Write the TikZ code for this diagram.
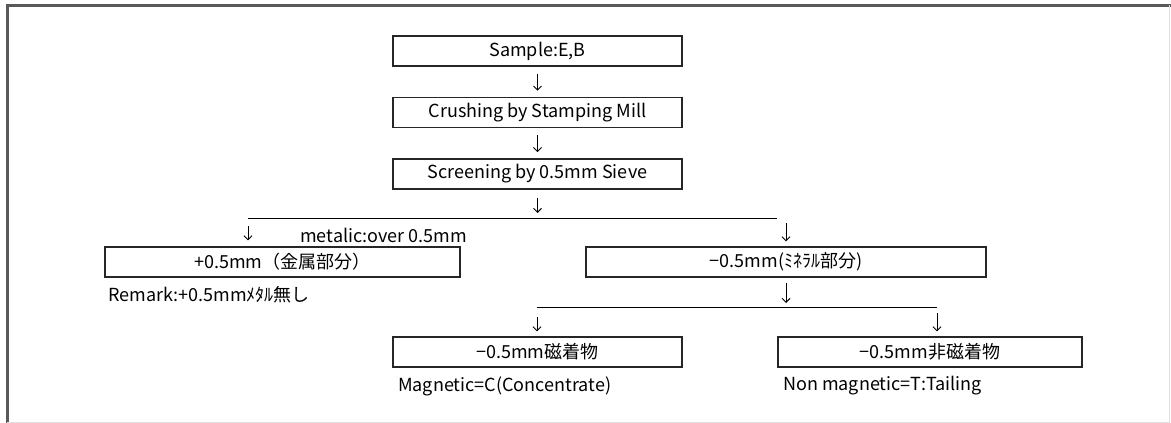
\documentclass[tikz,border=0pt]{standalone}
\usepackage{fontspec}
\setmainfont{Noto Sans CJK JP}
\usetikzlibrary{arrows.meta, positioning}

\begin{document}
\begin{tikzpicture}[
    x=1pt, y=-1pt,
    box/.style={draw=black!85, line width=1.4pt, minimum height=30pt, inner sep=0pt,
                font=\fontsize{18}{20}\selectfont},
    note/.style={anchor=west, inner sep=0pt, font=\fontsize{18}{20}\selectfont},
    arrow/.style={-{Straight Barb[length=4pt,width=8pt]}, line width=0.9pt},
    node distance=30pt
]
    \useasboundingbox (0,0) rectangle (1171,423);
    % frame
    \draw[black!65, line width=3pt] (7,423) -- (7,5) -- (1171,5);
    \draw[black!12, line width=1pt] (1169,5) -- (1169,422) -- (7,422);

    \node[box, minimum width=289pt] (sample) at (537.5,51) {Sample:E,B};
    \node[box, minimum width=289pt, below=of sample] (crush) {Crushing by Stamping Mill};
    \node[box, minimum width=289pt, below=of crush] (screen) {Screening by 0.5mm Sieve};

    \node[box, minimum width=355pt] (metal) at (282.5,262) {+0.5mm（金属部分）};
    \node[box, minimum width=400pt] (mineral) at (786,262) {−0.5mm(ﾐﾈﾗﾙ部分)};
    \node[box, minimum width=289pt] (mag) at (537.5,352) {−0.5mm磁着物};
    \node[box, minimum width=304pt] (nonmag) at (930,352) {−0.5mm非磁着物};

    \node[note] (over) at (300,235) {metalic:over 0.5mm};
    \node[note] (remark) at (108,295) {Remark:+0.5mmﾒﾀﾙ無し};
    \node[note] (magnote) at (398,386) {Magnetic=C(Concentrate)};
    \node[note] (nonnote) at (783,386) {Non magnetic=T:Tailing};

    \coordinate (b1l) at (248,218);
    \coordinate (b1r) at (777,218);
    \coordinate (b2l) at (537,307);
    \coordinate (b2r) at (937,307);

    \draw[arrow, shorten <=7pt, shorten >=6pt] (sample) -- (crush);
    \draw[arrow, shorten <=7pt, shorten >=6pt] (crush) -- (screen);
    \draw[arrow, shorten <=8pt, shorten >=5pt] (screen.south) -- (screen.south |- b1l);
    \draw[line width=1pt] (b1l) -- (b1r);
    \draw[arrow, shorten <=8pt, shorten >=6pt] (b1l) -- (b1l |- metal.north);
    \draw[arrow, shorten <=5pt, shorten >=5pt] (mineral.north |- b1r) -- (mineral.north);

    \draw[arrow, shorten <=5pt, shorten >=4pt] (mineral.south) -- (mineral.south |- b2l);
    \draw[line width=1pt] (b2l) -- (b2r);
    \draw[arrow, shorten <=10pt, shorten >=5pt] (b2l) -- (b2l |- mag.north);
    \draw[arrow, shorten <=6pt, shorten >=5pt] (b2r) -- (b2r |- nonmag.north);
\end{tikzpicture}
\end{document}
